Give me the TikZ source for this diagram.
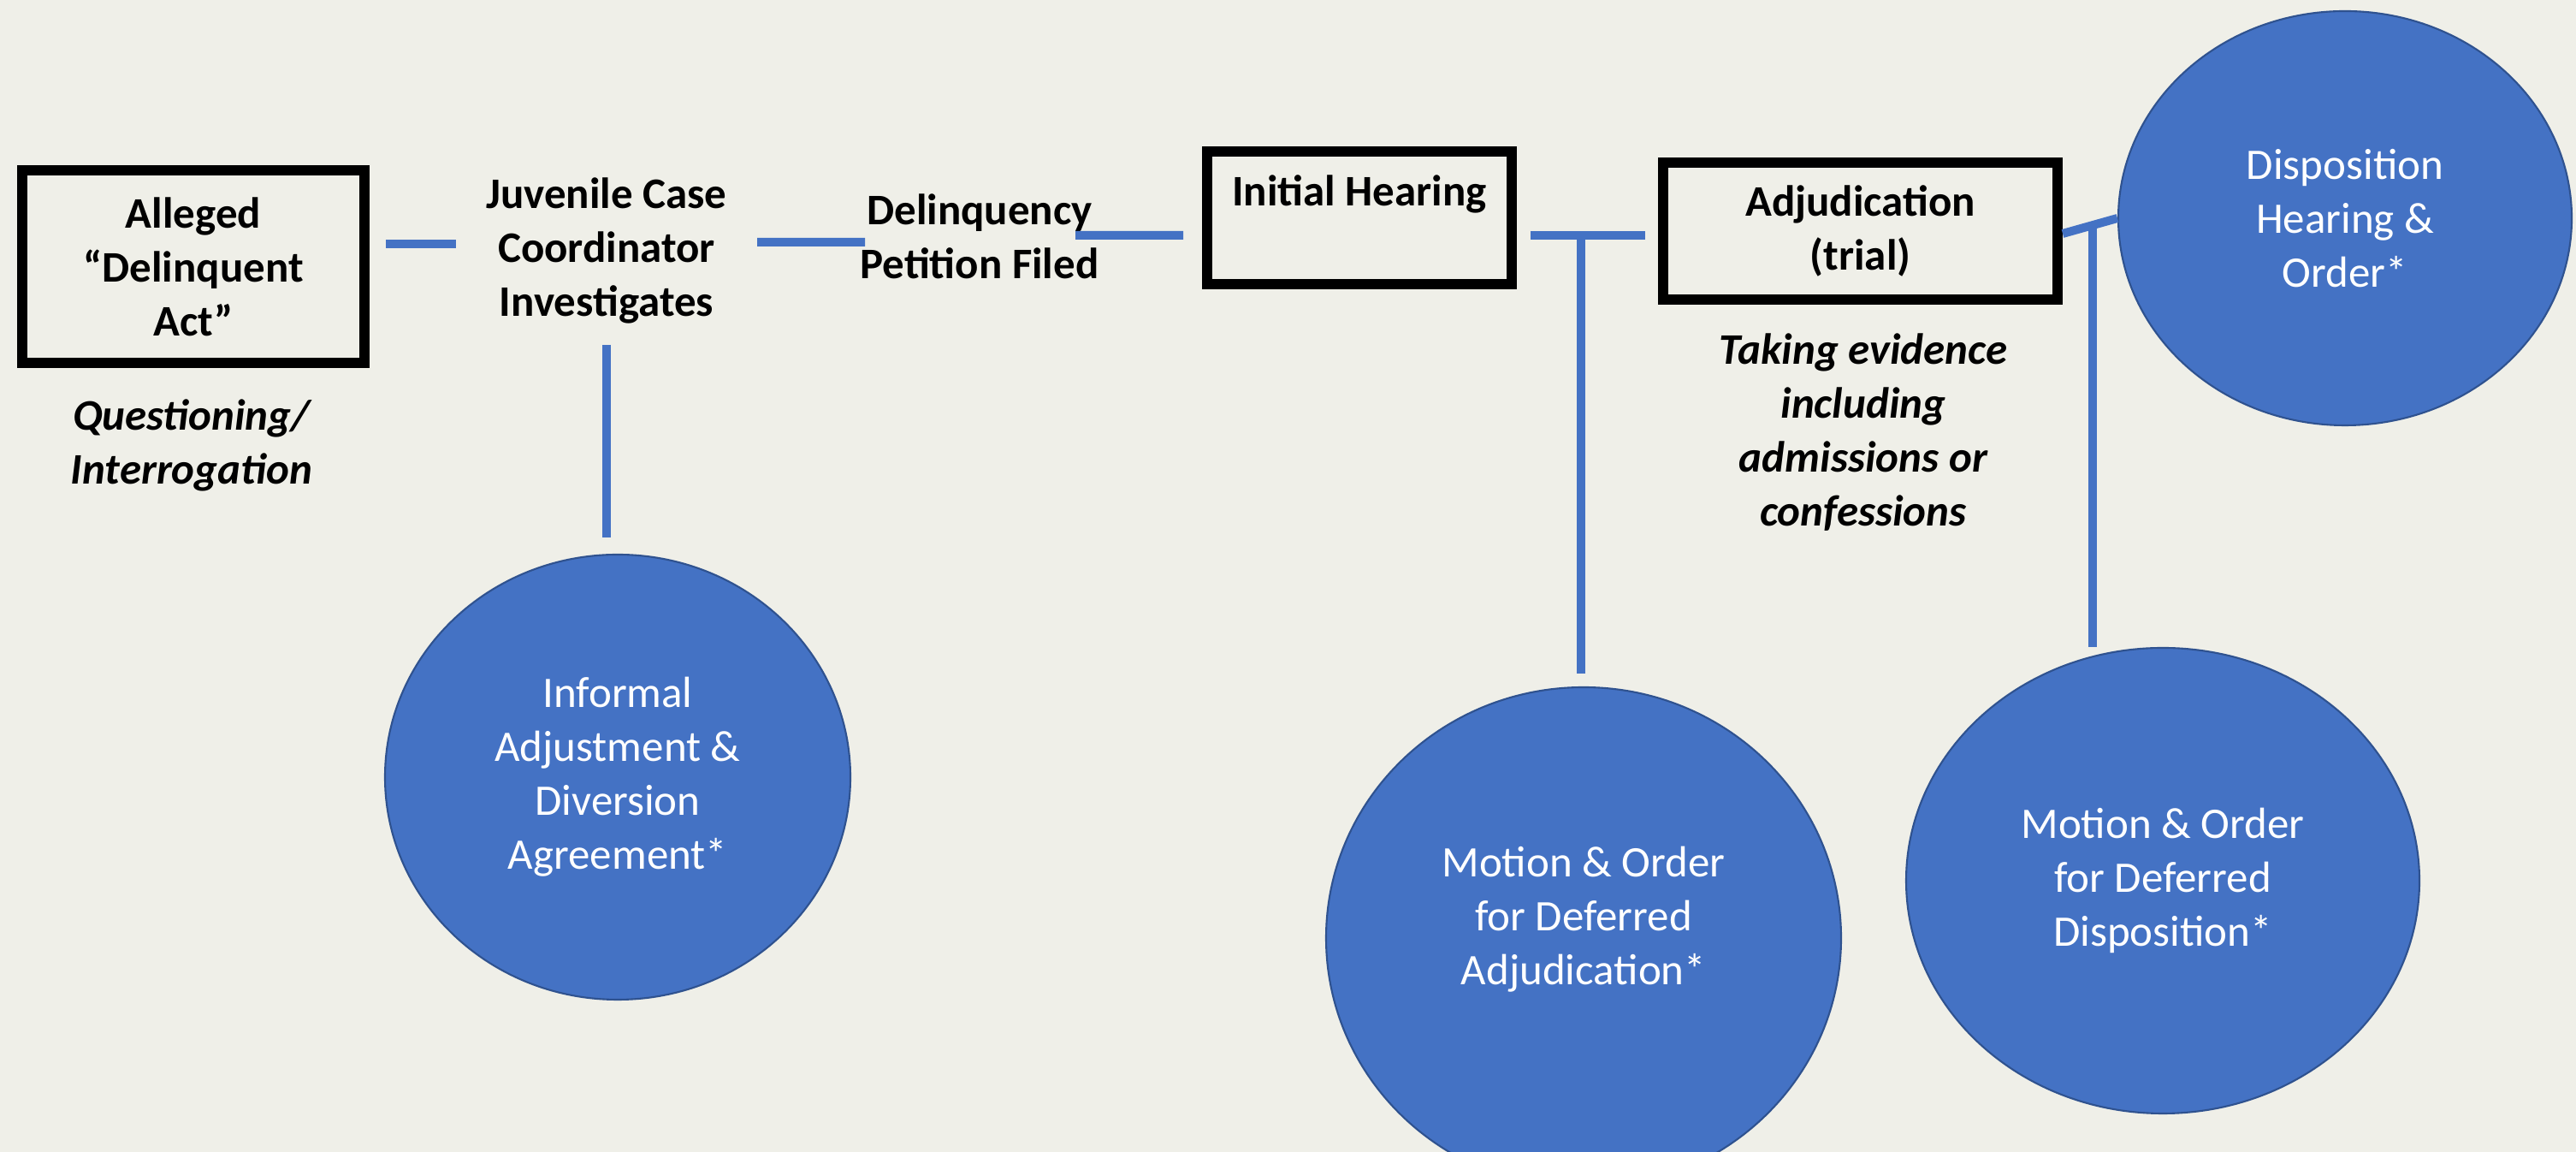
\documentclass[tikz,border=0pt]{standalone}
\usepackage{fontspec}
\setmainfont{Carlito}
\usetikzlibrary{shapes.geometric}
\definecolor{paper}{RGB}{239,239,232}
\definecolor{officeblue}{RGB}{68,114,196}
\definecolor{rimblue}{RGB}{47,82,143}

\begin{document}
\begin{tikzpicture}
  \tikzset{stagebox/.style = {draw, line width=0.12cm, inner sep=2pt, align=center, font=\bfseries\fontsize{14.5}{17.9}\selectfont},
    stagetext/.style = {inner sep=0pt, align=center, font=\bfseries\fontsize{14.5}{17.9}\selectfont},
    remark/.style = {inner sep=0pt, align=center, font=\bfseries\itshape\fontsize{14.5}{17.9}\selectfont},
    bubble/.style = {ellipse, fill=officeblue, draw=rimblue, line width=0.6pt, inner sep=0pt, text=white, align=center, font=\fontsize{14.5}{17.9}\selectfont},
    link/.style = {draw=officeblue, line width=0.1cm}}
  \useasboundingbox (0,0) rectangle (30.11,13.46);
  \clip (0,0) rectangle (30.11,13.46);
  \fill[paper] (0,0) rectangle (30.11,13.46);

  \node[stagebox, minimum width=4.00cm, minimum height=2.25cm] (alleged) at (2.26,10.345) {Alleged\\“Delinquent\\Act”};
  \node[remark] (question) at (2.24,8.26) {Questioning/\\Interrogation};
  \node[stagetext] (juvenile) at (7.09,10.53) {Juvenile Case\\Coordinator\\Investigates};
  \node[stagetext] (petition) at (11.45,10.70) {Delinquency\\Petition Filed};
  \node[stagebox, minimum width=3.56cm, minimum height=1.55cm] (initial) at (15.89,10.915) {Initial Hearing\\\mbox{}};
  \node[stagebox, minimum width=4.61cm, minimum height=1.60cm] (adjud) at (21.745,10.76) {Adjudication\\(trial)};
  \node[remark] (evidence) at (21.78,8.41) {Taking evidence\\including\\admissions or\\confessions};

  \node[bubble, minimum width=5.44cm, minimum height=5.20cm] (informal) at (7.22,4.38) {Informal\\Adjustment \&\\Diversion\\Agreement*};
  \node[bubble, minimum width=5.30cm, minimum height=4.84cm] (dispo) at (27.41,10.91) {Disposition\\Hearing \&\\Order*};
  \node[bubble, minimum width=6.02cm, minimum height=5.86cm] (motadj) at (18.51,2.50) {};
  \node[bubble, draw=none, fill=none, minimum size=0pt] (motadjtext) at ([yshift=0.22cm]motadj.center) {Motion \& Order\\for Deferred\\Adjudication*};
  \node[bubble, minimum width=6.00cm, minimum height=5.44cm] (motdis) at (25.28,3.17) {Motion \& Order\\for Deferred\\Disposition*};

  \draw[link] ([shift={(0.19,0.265)}]alleged.east) -- ([shift={(-1.76,0.08)}]juvenile.center);
  \draw[link] ([shift={(1.76,0.10)}]juvenile.center) -- ([shift={(-1.34,-0.07)}]petition.center);
  \draw[link] ([shift={(1.12,0.01)}]petition.center) -- ([shift={(-0.22,-0.205)}]initial.west);
  \draw[link] ([shift={(0.16,-0.205)}]initial.east) -- coordinate[pos=0.44] (tadj) ([shift={(-0.15,-0.05)}]adjud.west);
  \draw[link] ([yshift=-0.03cm]adjud.east) -- coordinate[pos=0.54] (tdis) (dispo.west);
  \draw[link, shorten >=0.19cm] ([yshift=-1.10cm]juvenile.center) -- (juvenile.center |- informal.north);
  \draw[link, shorten >=0.15cm] (tadj) -- (tadj |- motadj.north);
  \draw[link] (tdis) -- (tdis |- motdis.north);
\end{tikzpicture}
\end{document}
